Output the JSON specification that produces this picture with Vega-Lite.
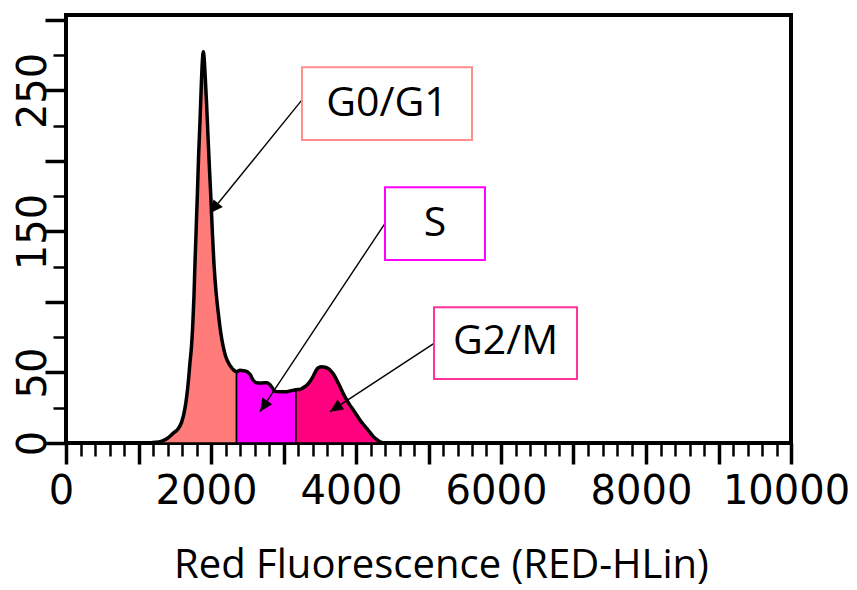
{
  "$schema": "https://vega.github.io/schema/vega-lite/v6.json",
  "width": 725,
  "height": 428,
  "autosize": {"type": "none"},
  "padding": {"left": 66, "top": 15, "right": 66, "bottom": 147},
  "background": "white",
  "config": {
    "view": {"stroke": "#000", "strokeWidth": 4},
    "axis": {"grid": false, "domain": false, "tickColor": "#000", "labelColor": "#000", "titleColor": "#000"}
  },
  "datasets": {
    "curve": [
      {"fluorescence": 1150, "count": 0, "phase": "G0/G1"},
      {"fluorescence": 1230, "count": 0.5, "phase": "G0/G1"},
      {"fluorescence": 1300, "count": 1, "phase": "G0/G1"},
      {"fluorescence": 1390, "count": 3, "phase": "G0/G1"},
      {"fluorescence": 1480, "count": 7, "phase": "G0/G1"},
      {"fluorescence": 1545, "count": 10, "phase": "G0/G1"},
      {"fluorescence": 1596, "count": 15, "phase": "G0/G1"},
      {"fluorescence": 1635, "count": 23, "phase": "G0/G1"},
      {"fluorescence": 1665, "count": 33, "phase": "G0/G1"},
      {"fluorescence": 1690, "count": 45, "phase": "G0/G1"},
      {"fluorescence": 1710, "count": 57, "phase": "G0/G1"},
      {"fluorescence": 1730, "count": 68, "phase": "G0/G1"},
      {"fluorescence": 1747, "count": 82, "phase": "G0/G1"},
      {"fluorescence": 1765, "count": 104, "phase": "G0/G1"},
      {"fluorescence": 1779, "count": 127, "phase": "G0/G1"},
      {"fluorescence": 1795, "count": 151, "phase": "G0/G1"},
      {"fluorescence": 1811, "count": 175, "phase": "G0/G1"},
      {"fluorescence": 1830, "count": 205, "phase": "G0/G1"},
      {"fluorescence": 1848, "count": 228, "phase": "G0/G1"},
      {"fluorescence": 1865, "count": 252, "phase": "G0/G1"},
      {"fluorescence": 1880, "count": 270, "phase": "G0/G1"},
      {"fluorescence": 1894, "count": 277.5, "phase": "G0/G1"},
      {"fluorescence": 1908, "count": 271, "phase": "G0/G1"},
      {"fluorescence": 1920, "count": 260, "phase": "G0/G1"},
      {"fluorescence": 1935, "count": 245, "phase": "G0/G1"},
      {"fluorescence": 1950, "count": 228, "phase": "G0/G1"},
      {"fluorescence": 1965, "count": 210, "phase": "G0/G1"},
      {"fluorescence": 1983, "count": 190, "phase": "G0/G1"},
      {"fluorescence": 2000, "count": 172, "phase": "G0/G1"},
      {"fluorescence": 2020, "count": 148, "phase": "G0/G1"},
      {"fluorescence": 2041, "count": 127, "phase": "G0/G1"},
      {"fluorescence": 2070, "count": 107, "phase": "G0/G1"},
      {"fluorescence": 2101, "count": 92, "phase": "G0/G1"},
      {"fluorescence": 2135, "count": 78, "phase": "G0/G1"},
      {"fluorescence": 2170, "count": 68, "phase": "G0/G1"},
      {"fluorescence": 2205, "count": 61, "phase": "G0/G1"},
      {"fluorescence": 2239, "count": 57, "phase": "G0/G1"},
      {"fluorescence": 2275, "count": 54, "phase": "G0/G1"},
      {"fluorescence": 2308, "count": 52, "phase": "G0/G1"},
      {"fluorescence": 2352, "count": 50.5, "phase": "G0/G1"},
      {"fluorescence": 2352, "count": 50.5, "phase": "S"},
      {"fluorescence": 2400, "count": 51.5, "phase": "S"},
      {"fluorescence": 2450, "count": 51.3, "phase": "S"},
      {"fluorescence": 2500, "count": 50.5, "phase": "S"},
      {"fluorescence": 2540, "count": 48.5, "phase": "S"},
      {"fluorescence": 2580, "count": 44.7, "phase": "S"},
      {"fluorescence": 2630, "count": 42.8, "phase": "S"},
      {"fluorescence": 2700, "count": 42.6, "phase": "S"},
      {"fluorescence": 2768, "count": 42.8, "phase": "S"},
      {"fluorescence": 2810, "count": 41.5, "phase": "S"},
      {"fluorescence": 2840, "count": 39.5, "phase": "S"},
      {"fluorescence": 2883, "count": 36.6, "phase": "S"},
      {"fluorescence": 2950, "count": 36.3, "phase": "S"},
      {"fluorescence": 3044, "count": 36.4, "phase": "S"},
      {"fluorescence": 3100, "count": 37, "phase": "S"},
      {"fluorescence": 3172, "count": 37.8, "phase": "S"},
      {"fluorescence": 3172, "count": 37.8, "phase": "G2/M"},
      {"fluorescence": 3228, "count": 38, "phase": "G2/M"},
      {"fluorescence": 3280, "count": 39.5, "phase": "G2/M"},
      {"fluorescence": 3320, "count": 41, "phase": "G2/M"},
      {"fluorescence": 3370, "count": 44, "phase": "G2/M"},
      {"fluorescence": 3411, "count": 47.5, "phase": "G2/M"},
      {"fluorescence": 3450, "count": 51.5, "phase": "G2/M"},
      {"fluorescence": 3480, "count": 53.3, "phase": "G2/M"},
      {"fluorescence": 3530, "count": 54, "phase": "G2/M"},
      {"fluorescence": 3572, "count": 53.7, "phase": "G2/M"},
      {"fluorescence": 3610, "count": 53, "phase": "G2/M"},
      {"fluorescence": 3641, "count": 51.8, "phase": "G2/M"},
      {"fluorescence": 3680, "count": 49.5, "phase": "G2/M"},
      {"fluorescence": 3710, "count": 47, "phase": "G2/M"},
      {"fluorescence": 3745, "count": 43.5, "phase": "G2/M"},
      {"fluorescence": 3779, "count": 40, "phase": "G2/M"},
      {"fluorescence": 3830, "count": 34.5, "phase": "G2/M"},
      {"fluorescence": 3872, "count": 30.5, "phase": "G2/M"},
      {"fluorescence": 3920, "count": 26.5, "phase": "G2/M"},
      {"fluorescence": 3963, "count": 23.4, "phase": "G2/M"},
      {"fluorescence": 4010, "count": 19.8, "phase": "G2/M"},
      {"fluorescence": 4055, "count": 16.3, "phase": "G2/M"},
      {"fluorescence": 4100, "count": 13.3, "phase": "G2/M"},
      {"fluorescence": 4148, "count": 10.4, "phase": "G2/M"},
      {"fluorescence": 4195, "count": 7.3, "phase": "G2/M"},
      {"fluorescence": 4239, "count": 4.5, "phase": "G2/M"},
      {"fluorescence": 4280, "count": 2.7, "phase": "G2/M"},
      {"fluorescence": 4308, "count": 1.7, "phase": "G2/M"},
      {"fluorescence": 4340, "count": 0.6, "phase": "G2/M"},
      {"fluorescence": 4370, "count": 0, "phase": "G2/M"}
    ],
    "notes": [
      {"phase": "G0/G1", "boxLeft": 3255, "boxRight": 5600, "boxTop": 266.5, "boxBottom": 214.9, "labelX": 4428, "labelY": 240.6, "fromX": 3255, "fromY": 243.3, "toX": 1986, "toY": 162.9, "heading": 219},
      {"phase": "S", "boxLeft": 4400, "boxRight": 5779, "boxTop": 181.3, "boxBottom": 129.8, "labelX": 5090, "labelY": 155.5, "fromX": 4400, "fromY": 155.8, "toX": 2676, "toY": 22.2, "heading": 213.6},
      {"phase": "G2/M", "boxLeft": 5076, "boxRight": 7048, "boxTop": 96.2, "boxBottom": 45.4, "labelX": 6062, "labelY": 71.6, "fromX": 5076, "fromY": 70.7, "toX": 3641, "toY": 22.2, "heading": 236.7}
    ]
  },
  "layer": [
    {
      "data": {"name": "curve"},
      "mark": {"type": "area", "interpolate": "monotone", "stroke": "#000", "strokeWidth": 1.5, "opacity": 1},
      "encoding": {
        "x": {
          "field": "fluorescence", "type": "quantitative",
          "scale": {"domain": [0, 10000], "nice": false, "zero": false},
          "axis": {
            "orient": "bottom",
            "values": [0, 1000, 2000, 3000, 4000, 5000, 6000, 7000, 8000, 9000, 10000],
            "format": "d",
            "labelExpr": "datum.value % 2000 === 0 ? datum.label : ''",
            "tickSize": 21, "tickWidth": 3.5,
            "labelFont": "DejaVu Sans", "labelFontSize": 40, "labelPadding": 7,
            "labelFlush": false, "labelOverlap": false, "labelAlign": "center", "labelBaseline": "top", "labelOffset": -5,
            "title": "Red Fluorescence (RED-HLin)",
            "titleFont": "Open Sans", "titleFontSize": 40, "titleFontWeight": "normal",
            "titleX": 375, "titleY": 134, "titleBaseline": "alphabetic", "titleAlign": "center"
          }
        },
        "y": {
          "field": "count", "type": "quantitative", "stack": null,
          "scale": {"domain": [0, 303.5], "nice": false},
          "axis": {
            "orient": "left",
            "values": [0, 50, 100, 150, 200, 250, 300],
            "labelExpr": "indexof([0, 50, 150, 250], datum.value) >= 0 ? datum.label : ''",
            "tickSize": 21, "tickWidth": 3.5,
            "labelFont": "DejaVu Sans", "labelFontSize": 40, "labelPadding": 0,
            "labelAngle": -90, "labelAlign": "center", "labelBaseline": "alphabetic",
            "labelOverlap": false, "labelFlush": false,
            "title": null
          }
        },
        "fill": {
          "field": "phase", "type": "nominal",
          "scale": {"domain": ["G0/G1", "S", "G2/M"], "range": ["#FF7C7A", "#FF00FF", "#FF007F"]},
          "legend": null
        }
      }
    },
    {
      "data": {"name": "curve"},
      "mark": {"type": "line", "interpolate": "monotone", "color": "#000", "strokeWidth": 3.5, "strokeJoin": "round"},
      "encoding": {
        "x": {
          "field": "fluorescence", "type": "quantitative",
          "axis": {
            "orient": "bottom",
            "values": [200, 400, 600, 800, 1200, 1400, 1600, 1800, 2200, 2400, 2600, 2800, 3200, 3400, 3600, 3800, 4200, 4400, 4600, 4800, 5200, 5400, 5600, 5800, 6200, 6400, 6600, 6800, 7200, 7400, 7600, 7800, 8200, 8400, 8600, 8800, 9200, 9400, 9600, 9800],
            "tickSize": 13, "tickWidth": 2.5, "labels": false, "title": null
          }
        },
        "y": {
          "field": "count", "type": "quantitative",
          "axis": {
            "orient": "left",
            "values": [25, 75, 125, 175, 225, 275],
            "tickSize": 13, "tickWidth": 2.5, "labels": false, "title": null
          }
        }
      }
    },
    {
      "data": {"name": "notes"},
      "mark": {"type": "rule", "color": "#000", "strokeWidth": 1.4},
      "encoding": {
        "x": {"field": "fromX", "type": "quantitative", "axis": null},
        "y": {"field": "fromY", "type": "quantitative", "axis": null},
        "x2": {"field": "toX"},
        "y2": {"field": "toY"}
      }
    },
    {
      "data": {"name": "notes"},
      "mark": {"type": "point", "shape": "M0,0L-0.5,1.1L0.5,1.1Z", "filled": true, "color": "#000", "opacity": 1, "size": 560, "strokeWidth": 0},
      "encoding": {
        "x": {"field": "toX", "type": "quantitative", "axis": null},
        "y": {"field": "toY", "type": "quantitative", "axis": null},
        "angle": {"field": "heading", "type": "quantitative", "scale": null}
      }
    },
    {
      "data": {"name": "notes"},
      "mark": {"type": "rect", "fill": "#FFFFFF", "strokeWidth": 2},
      "encoding": {
        "x": {"field": "boxLeft", "type": "quantitative", "axis": null},
        "x2": {"field": "boxRight"},
        "y": {"field": "boxTop", "type": "quantitative", "axis": null},
        "y2": {"field": "boxBottom"},
        "stroke": {
          "field": "phase", "type": "nominal",
          "scale": {"domain": ["G0/G1", "S", "G2/M"], "range": ["#FF8E8C", "#FF00FF", "#FF3399"]},
          "legend": null
        }
      }
    },
    {
      "data": {"name": "notes"},
      "mark": {"type": "text", "font": "Open Sans", "fontSize": 41, "color": "#000", "align": "center", "baseline": "middle"},
      "encoding": {
        "x": {"field": "labelX", "type": "quantitative", "axis": null},
        "y": {"field": "labelY", "type": "quantitative", "axis": null},
        "text": {"field": "phase", "type": "nominal"}
      }
    }
  ],
  "resolve": {"axis": {"x": "independent", "y": "independent"}}
}
